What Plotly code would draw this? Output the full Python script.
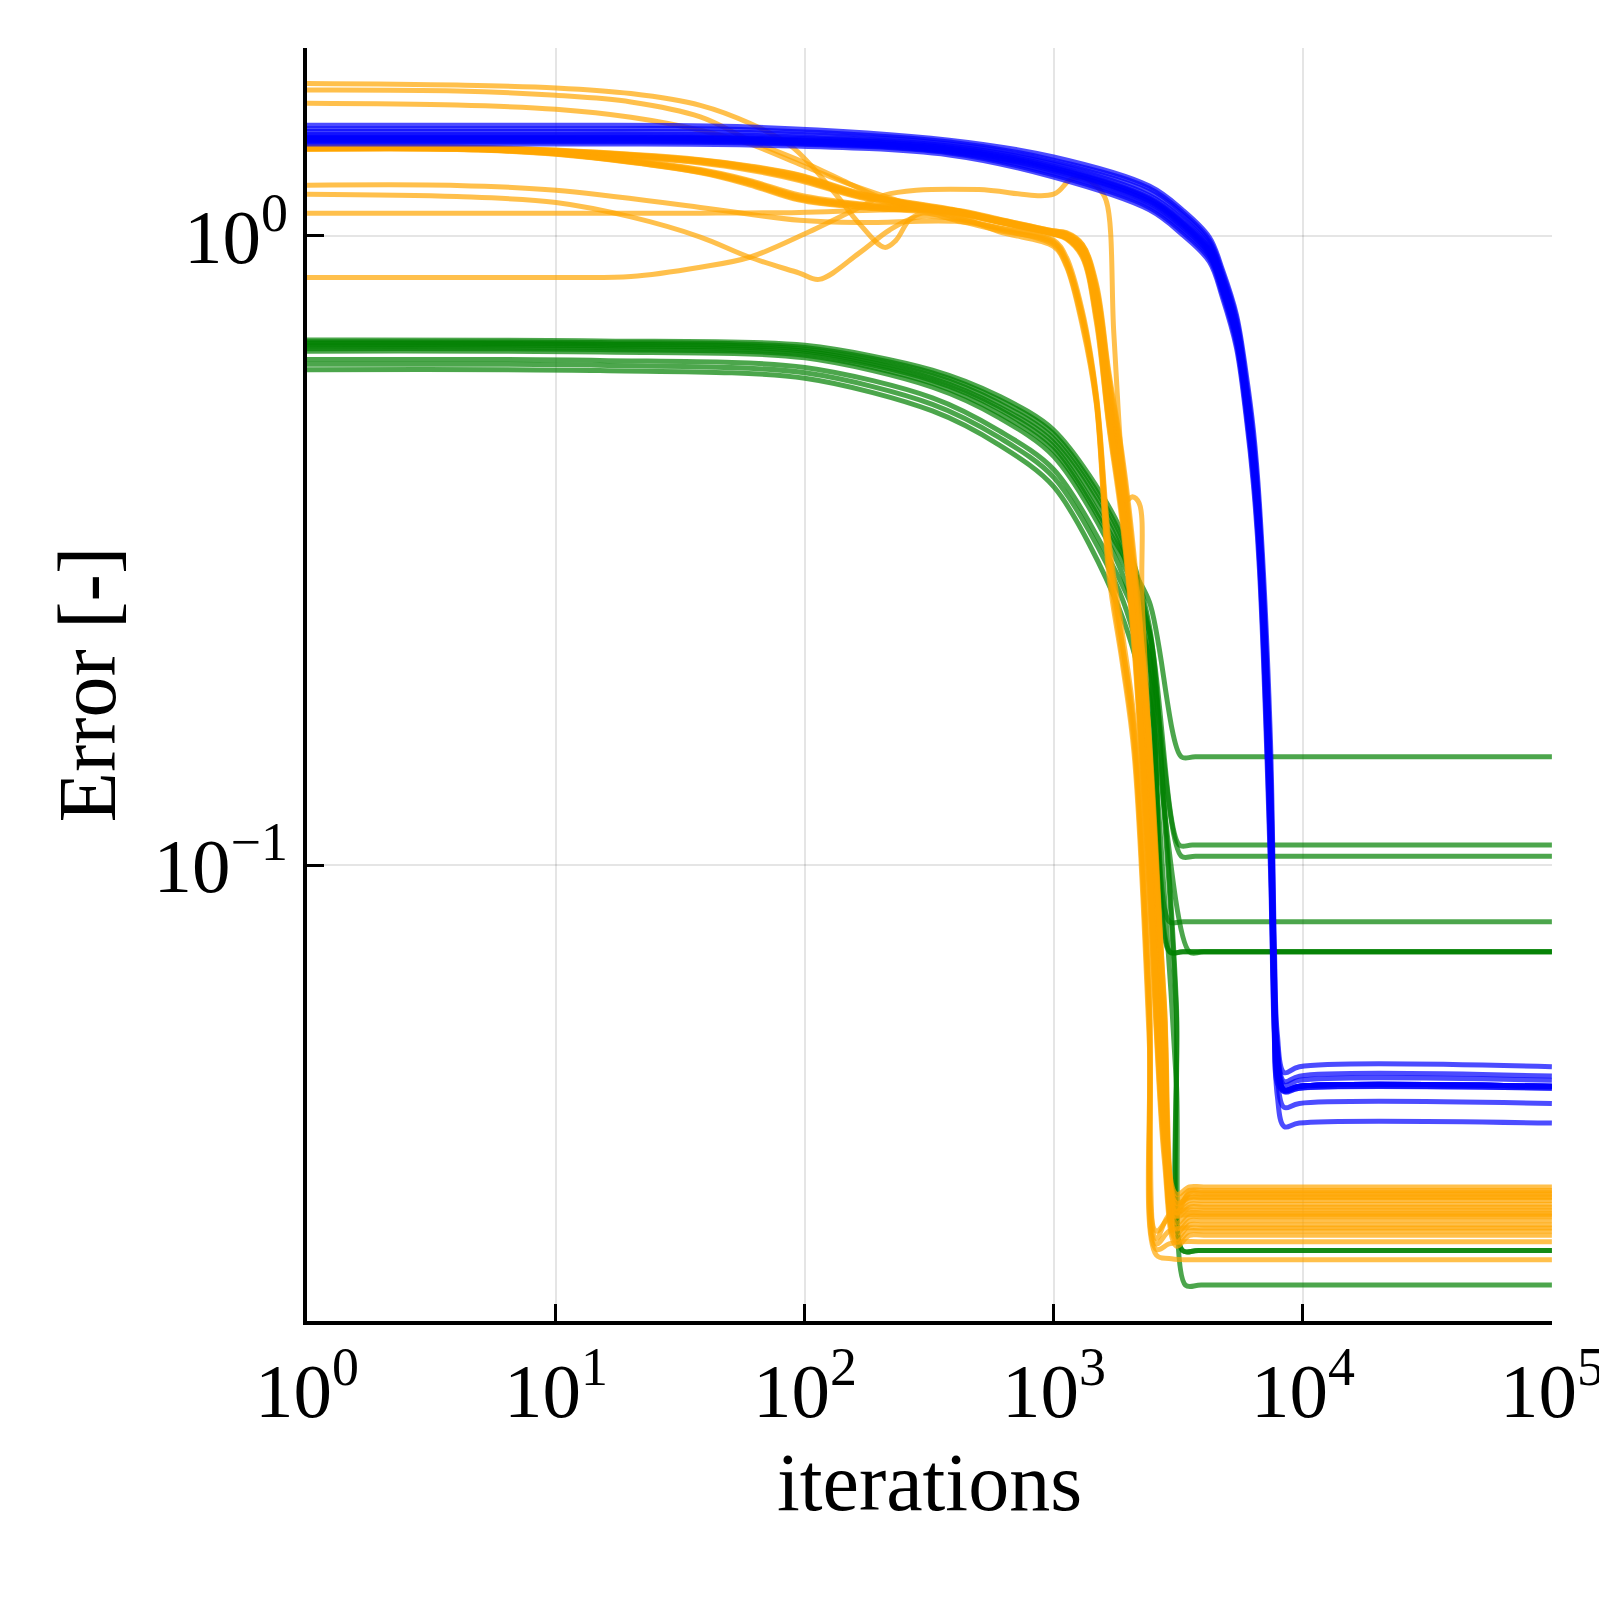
import plotly.graph_objects as go

# ---------------- data ----------------
# iterations on x, error on y (both log axes)

x_tick_vals = [1, 10, 100, 1000, 10000, 100000]
x_tick_text = ["10<sup>0</sup>", "10<sup>1</sup>", "10<sup>2</sup>",
               "10<sup>3</sup>", "10<sup>4</sup>", "10<sup>5</sup>"]
y_tick_vals = [1, 0.1]
y_tick_text = ["10<sup>0</sup>", "10<sup>\u22121</sup>"]

# blue runs: shared x, one y list per run
blue_x = [1, 10, 60, 380, 997, 2417, 3280, 4210, 4745, 5405, 5930, 6330, 6690,
          7400, 7680, 7890, 8410, 9680, 100000]
blue_y = [
    [1.50, 1.50, 1.49, 1.42, 1.335, 1.20, 1.10, 0.995, 0.885, 0.75, 0.60, 0.49, 0.375, 0.16, 0.075, 0.054, 0.0468, 0.0478, 0.0478],
    [1.48, 1.48, 1.475, 1.41, 1.32, 1.19, 1.09, 0.985, 0.875, 0.74, 0.585, 0.475, 0.36, 0.145, 0.070, 0.052, 0.0453, 0.0462, 0.0462],
    [1.465, 1.465, 1.46, 1.40, 1.31, 1.175, 1.08, 0.975, 0.865, 0.73, 0.575, 0.465, 0.35, 0.14, 0.068, 0.051, 0.0447, 0.0455, 0.0455],
    [1.45, 1.45, 1.445, 1.39, 1.30, 1.16, 1.065, 0.965, 0.855, 0.72, 0.565, 0.455, 0.345, 0.133, 0.065, 0.050, 0.0439, 0.0445, 0.0445],
    [1.44, 1.44, 1.435, 1.385, 1.29, 1.15, 1.055, 0.955, 0.845, 0.71, 0.558, 0.448, 0.34, 0.128, 0.063, 0.049, 0.0439, 0.0445, 0.0445],
    [1.435, 1.435, 1.43, 1.38, 1.285, 1.145, 1.05, 0.95, 0.84, 0.705, 0.552, 0.442, 0.335, 0.125, 0.062, 0.048, 0.0436, 0.0442, 0.0442],
    [1.43, 1.43, 1.425, 1.375, 1.28, 1.14, 1.045, 0.945, 0.835, 0.70, 0.547, 0.437, 0.33, 0.122, 0.061, 0.048, 0.0439, 0.0445, 0.0445],
    [1.425, 1.425, 1.42, 1.37, 1.275, 1.135, 1.04, 0.94, 0.83, 0.695, 0.542, 0.432, 0.325, 0.118, 0.058, 0.046, 0.0412, 0.0418, 0.0418],
    [1.42, 1.42, 1.415, 1.365, 1.27, 1.13, 1.035, 0.935, 0.825, 0.69, 0.537, 0.427, 0.32, 0.115, 0.058, 0.047, 0.0439, 0.0445, 0.0445],
    [1.415, 1.415, 1.41, 1.36, 1.26, 1.12, 1.025, 0.93, 0.82, 0.685, 0.532, 0.422, 0.315, 0.11, 0.055, 0.043, 0.0384, 0.0389, 0.0389],
    [1.41, 1.41, 1.405, 1.355, 1.25, 1.11, 1.015, 0.92, 0.81, 0.675, 0.522, 0.412, 0.305, 0.105, 0.055, 0.046, 0.0439, 0.0445, 0.0445],
    [1.40, 1.40, 1.395, 1.345, 1.24, 1.10, 1.005, 0.91, 0.80, 0.665, 0.512, 0.402, 0.295, 0.10, 0.053, 0.045, 0.0437, 0.0442, 0.0442],
]

# green runs: shared head, then each run's own drop and plateau
green_x = [1, 15, 100, 325, 604, 1000, 1833, 2417]
green_y = [
    [0.683, 0.681, 0.670, 0.612, 0.556, 0.491, 0.345, 0.240],
    [0.679, 0.677, 0.665, 0.606, 0.549, 0.484, 0.338, 0.235],
    [0.675, 0.673, 0.660, 0.600, 0.542, 0.476, 0.330, 0.215],
    [0.671, 0.669, 0.656, 0.594, 0.535, 0.469, 0.322, 0.210],
    [0.667, 0.665, 0.651, 0.589, 0.530, 0.462, 0.318, 0.262],
    [0.662, 0.660, 0.646, 0.583, 0.522, 0.455, 0.310, 0.235],
    [0.656, 0.654, 0.640, 0.575, 0.514, 0.446, 0.298, 0.200],
    [0.636, 0.634, 0.618, 0.553, 0.490, 0.425, 0.285, 0.215],
    [0.625, 0.623, 0.606, 0.540, 0.478, 0.413, 0.272, 0.185],
    [0.613, 0.611, 0.594, 0.527, 0.465, 0.399, 0.255, 0.170],
]
green_tail_x = [
    [2775, 3104, 3280, 3800, 100000],
    [2775, 3104, 3290, 3800, 100000],
    [2908, 3300, 100000],
    [2930, 3300, 100000],
    [3250, 3700, 100000],
    [3190, 3600, 100000],
    [2908, 3300, 100000],
    [3250, 3700, 100000],
    [3500, 4000, 100000],
    [2775, 3104, 3375, 3900, 100000],
]
green_tail_y = [
    [0.125, 0.060, 0.0244, 0.0244, 0.0244],
    [0.120, 0.058, 0.0244, 0.0244, 0.0244],
    [0.0728, 0.0728, 0.0728],
    [0.0728, 0.0728, 0.0728],
    [0.1486, 0.1486, 0.1486],
    [0.1076, 0.1076, 0.1076],
    [0.0813, 0.0813, 0.0813],
    [0.1033, 0.1033, 0.1033],
    [0.0728, 0.0728, 0.0728],
    [0.090, 0.045, 0.0215, 0.0215, 0.0215],
]

# orange runs: own early part, then a "thick" or "thin" shared tail grid
orange_thick_x = [604, 997, 1122, 1300, 1480, 1660, 1880, 2100, 2417, 2775, 3104, 3500, 4000, 100000]
orange_thin_x = [604, 997, 1122, 1300, 1480, 1660, 1880, 2100, 2417, 2577, 2900, 3300, 3800, 100000]

s4_x = [1, 4, 10, 38, 60, 95, 165, 400]
orange_head_x = [
    [1, 4, 10, 20, 38, 60, 89, 129, 165, 209, 232, 262, 297, 400],
    [1, 4, 10, 20, 38, 60, 101, 150, 200, 297, 400],
    [1, 4, 10, 20, 38, 60, 95, 150, 250, 400],
    s4_x, s4_x, s4_x, s4_x, s4_x, s4_x,
    s4_x, s4_x, s4_x, s4_x, s4_x,
    [1, 4, 10, 38, 95, 165, 400],
    [1, 4, 10, 20, 38, 60, 95, 114, 165, 218, 280, 400],
    [1, 10, 38, 95, 200, 400],
    s4_x,
    s4_x,
]
orange_head_y = [
    [1.747, 1.737, 1.719, 1.684, 1.613, 1.51, 1.384, 1.182, 1.047, 0.959, 0.984, 1.059, 1.087, 1.06],
    [1.706, 1.700, 1.673, 1.633, 1.546, 1.42, 1.305, 1.212, 1.152, 1.105, 1.095],
    [1.625, 1.615, 1.59, 1.544, 1.472, 1.40, 1.30, 1.21, 1.13, 1.07],
    [1.385, 1.384, 1.368, 1.320, 1.290, 1.248, 1.168, 1.100],
    [1.384, 1.383, 1.366, 1.318, 1.286, 1.243, 1.165, 1.098],
    [1.383, 1.382, 1.364, 1.315, 1.283, 1.238, 1.161, 1.096],
    [1.382, 1.381, 1.363, 1.312, 1.280, 1.234, 1.158, 1.094],
    [1.381, 1.380, 1.361, 1.309, 1.276, 1.229, 1.155, 1.092],
    [1.380, 1.379, 1.359, 1.306, 1.272, 1.225, 1.152, 1.090],
    [1.378, 1.377, 1.355, 1.275, 1.225, 1.162, 1.125, 1.098],
    [1.377, 1.376, 1.354, 1.272, 1.221, 1.157, 1.122, 1.095],
    [1.376, 1.375, 1.352, 1.268, 1.217, 1.152, 1.119, 1.092],
    [1.375, 1.374, 1.351, 1.265, 1.213, 1.148, 1.116, 1.089],
    [1.374, 1.373, 1.349, 1.262, 1.209, 1.143, 1.112, 1.086],
    [1.204, 1.203, 1.182, 1.110, 1.059, 1.050, 1.055],
    [1.165, 1.155, 1.130, 1.072, 0.996, 0.925, 0.873, 0.853, 0.939, 1.021, 1.071, 1.065],
    [1.087, 1.087, 1.087, 1.090, 1.100, 1.100],
    [1.386, 1.385, 1.369, 1.322, 1.292, 1.250, 1.170, 1.080],
    [1.373, 1.372, 1.348, 1.260, 1.205, 1.140, 1.110, 1.084],
]
orange_tail_kind = ["thin", "thick", "thin",
                    "thick", "thick", "thick", "thick", "thick", "thick",
                    "thick", "thick", "thick", "thick", "thick",
                    "thin", "thin", "thick", "thin", "thick"]
orange_tail_y = [
    [1.020, 0.975, 0.910, 0.745, 0.550, 0.310, 0.225, 0.165, 0.060, 0.0250, 0.0262, 0.0265, 0.0265, 0.0265],
    [1.058, 1.014, 1.004, 0.957, 0.800, 0.560, 0.400, 0.260, 0.120, 0.045, 0.0285, 0.0300, 0.0300, 0.0300],
    [1.025, 0.968, 0.900, 0.730, 0.545, 0.300, 0.215, 0.155, 0.055, 0.0255, 0.0278, 0.0283, 0.0283, 0.0283],
    [1.062, 1.018, 1.010, 0.968, 0.830, 0.600, 0.440, 0.300, 0.160, 0.060, 0.0300, 0.0308, 0.0308, 0.0308],
    [1.060, 1.016, 1.007, 0.962, 0.820, 0.590, 0.430, 0.290, 0.150, 0.055, 0.0295, 0.0304, 0.0304, 0.0304],
    [1.059, 1.015, 1.005, 0.958, 0.810, 0.575, 0.420, 0.280, 0.140, 0.050, 0.0290, 0.0297, 0.0297, 0.0297],
    [1.057, 1.013, 1.003, 0.955, 0.800, 0.565, 0.410, 0.270, 0.130, 0.047, 0.0285, 0.0293, 0.0293, 0.0293],
    [1.056, 1.012, 1.001, 0.952, 0.790, 0.555, 0.400, 0.260, 0.120, 0.044, 0.0280, 0.0289, 0.0289, 0.0289],
    [1.055, 1.011, 0.999, 0.948, 0.780, 0.545, 0.390, 0.250, 0.110, 0.041, 0.0276, 0.0286, 0.0286, 0.0286],
    [1.054, 1.010, 0.997, 0.945, 0.770, 0.535, 0.380, 0.240, 0.105, 0.039, 0.0270, 0.0280, 0.0280, 0.0280],
    [1.053, 1.009, 0.995, 0.940, 0.760, 0.525, 0.370, 0.235, 0.100, 0.038, 0.0265, 0.0276, 0.0276, 0.0276],
    [1.052, 1.008, 0.993, 0.935, 0.750, 0.515, 0.360, 0.230, 0.095, 0.036, 0.0260, 0.0272, 0.0272, 0.0272],
    [1.051, 1.007, 0.991, 0.930, 0.740, 0.505, 0.360, 0.225, 0.092, 0.035, 0.0255, 0.0268, 0.0268, 0.0268],
    [1.050, 1.006, 0.989, 0.925, 0.730, 0.500, 0.350, 0.220, 0.090, 0.034, 0.0248, 0.0258, 0.0258, 0.0258],
    [1.030, 0.985, 0.925, 0.760, 0.560, 0.330, 0.235, 0.170, 0.065, 0.0262, 0.0275, 0.0278, 0.0278, 0.0278],
    [1.030, 0.980, 0.915, 0.750, 0.555, 0.320, 0.225, 0.160, 0.058, 0.0240, 0.0237, 0.0236, 0.0236, 0.0236],
    [1.063, 1.019, 1.012, 0.970, 0.840, 0.610, 0.450, 0.310, 0.155, 0.058, 0.0290, 0.0296, 0.0296, 0.0296],
    [1.015, 0.962, 0.895, 0.720, 0.540, 0.290, 0.210, 0.150, 0.052, 0.0245, 0.0250, 0.0252, 0.0252, 0.0252],
    [1.052, 1.008, 0.994, 0.938, 0.755, 0.520, 0.370, 0.235, 0.100, 0.037, 0.0252, 0.0262, 0.0262, 0.0262],
]

# the one orange run that rises, rides under the blue band and drops late
orange_late_x = [1, 10, 20, 38, 60, 101, 165, 209, 280, 500, 997, 1155, 1300, 1480, 1620,
                 1740, 1880, 1955, 2066, 2200, 2260, 2500, 2775, 3104, 3500, 4000, 100000]
orange_late_y = [0.859, 0.859, 0.862, 0.892, 0.925, 1.01, 1.11, 1.161, 1.182, 1.185, 1.165,
                 1.226, 1.24, 1.20, 1.139, 0.70, 0.429, 0.38, 0.385, 0.376, 0.264, 0.12,
                 0.061, 0.028, 0.0302, 0.0302, 0.0302]

BLUE = "rgba(0,0,255,0.7)"
GREEN = "rgba(0,128,0,0.7)"
ORANGE = "rgba(255,165,0,0.7)"
FONT = "Liberation Serif"

fig = go.Figure()


def add_run(x, y, color, smooth=1.0):
    fig.add_trace(go.Scatter(
        x=x, y=y, mode="lines",
        line=dict(color=color, width=5, shape="spline", smoothing=smooth),
        hoverinfo="skip", showlegend=False,
    ))


# green kinks are sharper in the original, so a bit less smoothing there
for ys, tx, ty in zip(green_y, green_tail_x, green_tail_y):
    add_run(green_x + tx, ys + ty, GREEN, smooth=0.85)

for hx, hy, kind, ty in zip(orange_head_x, orange_head_y, orange_tail_kind, orange_tail_y):
    tx = orange_thick_x if kind == "thick" else orange_thin_x
    add_run(hx + tx, hy + ty, ORANGE)
add_run(orange_late_x, orange_late_y, ORANGE)

for ys in blue_y:
    add_run(blue_x, ys, BLUE)

axis_common = dict(
    type="log",
    ticks="inside", ticklen=17, tickwidth=3, tickcolor="black",
    showline=True, linecolor="black", linewidth=3.5, mirror=False,
    showgrid=True, gridcolor="rgba(0,0,0,0.1)", gridwidth=2,
    zeroline=False, automargin=False, ticklabeloverflow="allow",
    tickfont=dict(family=FONT, size=77, color="black"),
)

fig.update_xaxes(
    range=[0, 5.0005], tickvals=x_tick_vals, ticktext=x_tick_text,
    title=dict(text="iterations", font=dict(family=FONT, size=82, color="black"), standoff=20),
    **axis_common,
)
fig.update_yaxes(
    range=[-1.7246, 0.2987], tickvals=y_tick_vals, ticktext=y_tick_text,
    title=dict(text="Error [-]", font=dict(family=FONT, size=82, color="black"), standoff=12),
    **axis_common,
)

fig.update_layout(
    width=1599, height=1600,
    margin=dict(l=307, r=47, t=48, b=279, autoexpand=False),
    paper_bgcolor="white", plot_bgcolor="white",
    font=dict(family=FONT, color="black"),
    showlegend=False,
)

fig.write_html("out.html", config={"displayModeBar": False},
               post_script="document.body.style.margin='0';")
